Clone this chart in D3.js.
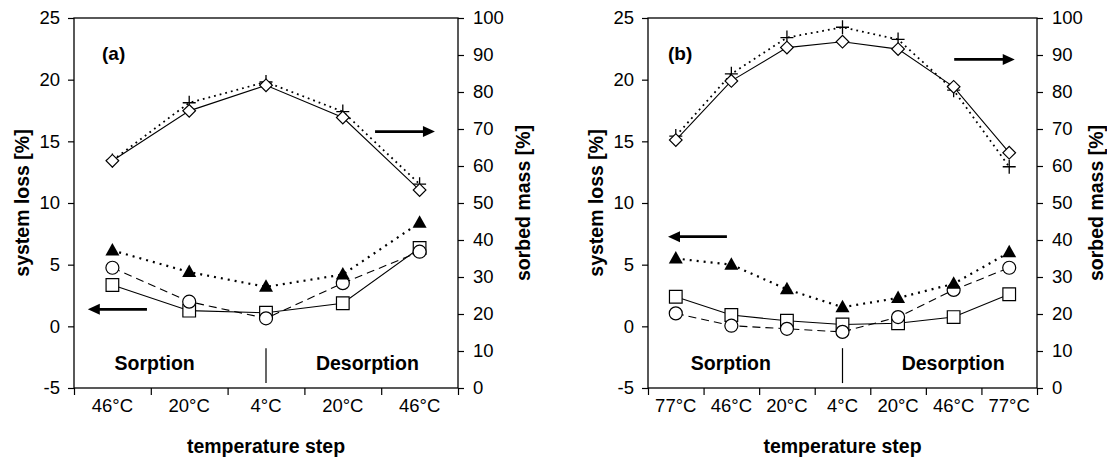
<!DOCTYPE html>
<html>
<head>
<meta charset="utf-8">
<script src="https://cdn.jsdelivr.net/npm/d3@7"></script>
<style>
  html, body { margin: 0; padding: 0; background: #fff; }
  svg { display: block; }
  text { font-family: "Liberation Sans", Arial, Helvetica, sans-serif; fill: #000; }
</style>
</head>
<body>
<svg id="chart" width="1107" height="461"></svg>
<script>
// ---------- data ----------
const catsA = ["46°C", "20°C", "4°C", "20°C", "46°C"];
const catsB = ["77°C", "46°C", "20°C", "4°C", "20°C", "46°C", "77°C"];

// system loss [%] (left axis)
const lossTriA  = [6.15, 4.4, 3.2, 4.2, 8.4];
const lossCircA = [4.75, 2.0, 0.65, 3.5, 6.05];
const lossSqA   = [3.35, 1.27, 1.1, 1.87, 6.35];
// sorbed mass [%] (right axis)
const massDiaA   = [61.4, 74.9, 81.8, 73.1, 53.5];
const massCrossA = [61.5, 77.1, 82.7, 74.7, 55.1];

const lossTriB  = [5.5, 5.0, 3.0, 1.55, 2.3, 3.45, 6.0];
const lossCircB = [1.05, 0.05, -0.2, -0.45, 0.75, 2.95, 4.75];
const lossSqB   = [2.4, 0.92, 0.45, 0.15, 0.25, 0.75, 2.6];
const massDiaB   = [67.0, 83.0, 92.0, 93.6, 91.6, 81.4, 63.6];
const massCrossB = [68.1, 84.9, 94.7, 97.5, 94.2, 80.5, 59.8];

const leftTicks  = [-5, 0, 5, 10, 15, 20, 25];
const rightTicks = [0, 10, 20, 30, 40, 50, 60, 70, 80, 90, 100];

const leftTitle = "system loss [%]";
const rightTitle = "sorbed mass [%]";
const xTitle = "temperature step";

// ---------- drawing ----------
const svg = d3.select("#chart");
const FONT = "Liberation Sans, Arial, Helvetica, sans-serif";

function panel(cfg) {
  const { left, right, top, bottom, cats, tri, circ, sq, dia, cross, label, ann, rTitleOff } = cfg;
  const n = cats.length;
  const g = svg.append("g");

  const xPos = d3.scaleLinear().domain([0, n]).range([left, right]);
  const xc = i => xPos(i + 0.5);
  const yL = d3.scaleLinear().domain([-5, 25]).range([bottom, top]);
  const yR = d3.scaleLinear().domain([0, 100]).range([bottom, top]);

  // axes
  const axL = g.append("g").attr("transform", `translate(${left},0)`)
    .call(d3.axisLeft(yL).tickValues(leftTicks).tickFormat(d => String(d))
      .tickSize(6).tickSizeOuter(0).tickPadding(8));
  const axR = g.append("g").attr("transform", `translate(${right},0)`)
    .call(d3.axisRight(yR).tickValues(rightTicks).tickFormat(d => String(d))
      .tickSize(6).tickSizeOuter(0).tickPadding(9));
  const axB = g.append("g").attr("transform", `translate(0,${bottom})`)
    .call(d3.axisBottom(xPos).tickValues(d3.range(n + 1)).tickSize(7).tickSizeOuter(0).tickFormat(""));
  [axL, axR, axB].forEach(a => {
    a.select(".domain").remove();
    a.selectAll("line").attr("stroke", "#000").attr("stroke-width", 1.2);
    a.selectAll("text").attr("font-size", 18.5).attr("font-family", FONT).attr("fill", "#000");
  });
  // category labels
  g.selectAll("text.cat").data(cats).enter().append("text")
    .attr("class", "cat")
    .attr("x", (d, i) => xc(i)).attr("y", bottom + 24)
    .attr("text-anchor", "middle").attr("font-size", 18.5).text(d => d);

  // frame
  g.append("rect").attr("x", left).attr("y", top)
    .attr("width", right - left).attr("height", bottom - top)
    .attr("fill", "none").attr("stroke", "#000").attr("stroke-width", 1.3);

  // titles
  g.append("text").attr("transform", `translate(${left - 52},${(top + bottom) / 2}) rotate(-90)`)
    .attr("text-anchor", "middle").attr("dy", "0.35em")
    .attr("font-size", 19.5).attr("font-weight", "bold").text(leftTitle);
  g.append("text").attr("transform", `translate(${right + rTitleOff},${(top + bottom) / 2}) rotate(-90)`)
    .attr("text-anchor", "middle").attr("dy", "0.35em")
    .attr("font-size", 19.5).attr("font-weight", "bold").text(rightTitle);
  g.append("text").attr("x", (left + right) / 2).attr("y", 453)
    .attr("text-anchor", "middle").attr("font-size", 19.5).attr("font-weight", "bold").text(xTitle);

  // panel label
  g.append("text").attr("x", xPos(ann.labelX)).attr("y", yL(21.6))
    .attr("font-size", 19).attr("font-weight", "bold").text(label);

  // Sorption / Desorption
  g.append("text").attr("x", xPos(ann.sorpX)).attr("y", yL(-3.54))
    .attr("text-anchor", "middle").attr("font-size", 19.5).attr("font-weight", "bold").text("Sorption");
  g.append("text").attr("x", xPos(ann.desorpX)).attr("y", yL(-3.54))
    .attr("text-anchor", "middle").attr("font-size", 19.5).attr("font-weight", "bold").text("Desorption");
  const mid = Math.floor(n / 2);
  g.append("line").attr("x1", xc(mid)).attr("x2", xc(mid))
    .attr("y1", yL(-1.77)).attr("y2", yL(-4.6))
    .attr("stroke", "#000").attr("stroke-width", 1.2);

  // arrows
  function arrow(x1, x2, y, dir) {
    const head = 12, hh = 5.5;
    const tip = dir > 0 ? x2 : x1;
    const tail = dir > 0 ? x1 : x2;
    g.append("line").attr("x1", tail).attr("x2", tip - dir * head + dir * 1)
      .attr("y1", y).attr("y2", y).attr("stroke", "#000").attr("stroke-width", 2.7);
    g.append("path")
      .attr("d", `M${tip},${y} L${tip - dir * head},${y - hh} L${tip - dir * head},${y + hh} Z`)
      .attr("fill", "#000");
  }
  arrow(xPos(ann.rArrow[0]), xPos(ann.rArrow[1]), yR(ann.rArrow[2]), 1);
  arrow(xPos(ann.lArrow[0]), xPos(ann.lArrow[1]), yL(ann.lArrow[2]), -1);

  // lines
  const lineL = d3.line().x((d, i) => xc(i)).y(d => yL(d));
  const lineR = d3.line().x((d, i) => xc(i)).y(d => yR(d));

  g.append("path").attr("d", lineR(dia)).attr("fill", "none").attr("stroke", "#000").attr("stroke-width", 1.1);
  g.append("path").attr("d", lineR(cross)).attr("fill", "none").attr("stroke", "#000")
    .attr("stroke-width", 1.8).attr("stroke-dasharray", "1.8,4");
  g.append("path").attr("d", lineL(sq)).attr("fill", "none").attr("stroke", "#000").attr("stroke-width", 1.1);
  g.append("path").attr("d", lineL(circ)).attr("fill", "none").attr("stroke", "#000")
    .attr("stroke-width", 1.1).attr("stroke-dasharray", "8,5");
  g.append("path").attr("d", lineL(tri)).attr("fill", "none").attr("stroke", "#000")
    .attr("stroke-width", 2.2).attr("stroke-dasharray", "2,5");

  // markers (crosses beneath diamonds)
  g.selectAll("path.cross").data(cross).enter().append("path").attr("class", "cross")
    .attr("d", "M-6.5,0H6.5M0,-7V7")
    .attr("transform", (d, i) => `translate(${xc(i)},${yR(d)})`)
    .attr("fill", "none").attr("stroke", "#000").attr("stroke-width", 1.3);
  g.selectAll("path.dia").data(dia).enter().append("path").attr("class", "dia")
    .attr("d", d3.symbol().type(d3.symbolSquare).size(80)())
    .attr("transform", (d, i) => `translate(${xc(i)},${yR(d)}) rotate(45)`)
    .attr("fill", "#fff").attr("stroke", "#000").attr("stroke-width", 1.2);
  g.selectAll("path.sq").data(sq).enter().append("path").attr("class", "sq")
    .attr("d", d3.symbol().type(d3.symbolSquare).size(160)())
    .attr("transform", (d, i) => `translate(${xc(i)},${yL(d)})`)
    .attr("fill", "#fff").attr("stroke", "#000").attr("stroke-width", 1.2);
  g.selectAll("circle.circ").data(circ).enter().append("circle").attr("class", "circ")
    .attr("cx", (d, i) => xc(i)).attr("cy", d => yL(d)).attr("r", 6.5)
    .attr("fill", "#fff").attr("stroke", "#000").attr("stroke-width", 1.2);
  g.selectAll("path.tri").data(tri).enter().append("path").attr("class", "tri")
    .attr("d", "M0,-7.5L7,5L-7,5Z")
    .attr("transform", (d, i) => `translate(${xc(i)},${yL(d)})`)
    .attr("fill", "#000");
}

panel({
  left: 74, right: 458, top: 18, bottom: 388, rTitleOff: 65,
  cats: catsA, tri: lossTriA, circ: lossCircA, sq: lossSqA, dia: massDiaA, cross: massCrossA,
  label: "(a)",
  ann: { labelX: 0.365, sorpX: 1.05, desorpX: 3.82, rArrow: [3.92, 4.70, 69.3], lArrow: [0.18, 0.95, 1.38] }
});
panel({
  left: 648, right: 1037, top: 18, bottom: 388, rTitleOff: 59,
  cats: catsB, tri: lossTriB, circ: lossCircB, sq: lossSqB, dia: massDiaB, cross: massCrossB,
  label: "(b)",
  ann: { labelX: 0.36, sorpX: 1.49, desorpX: 5.49, rArrow: [5.51, 6.60, 88.8], lArrow: [0.36, 1.42, 7.27] }
});
</script>
</body>
</html>
